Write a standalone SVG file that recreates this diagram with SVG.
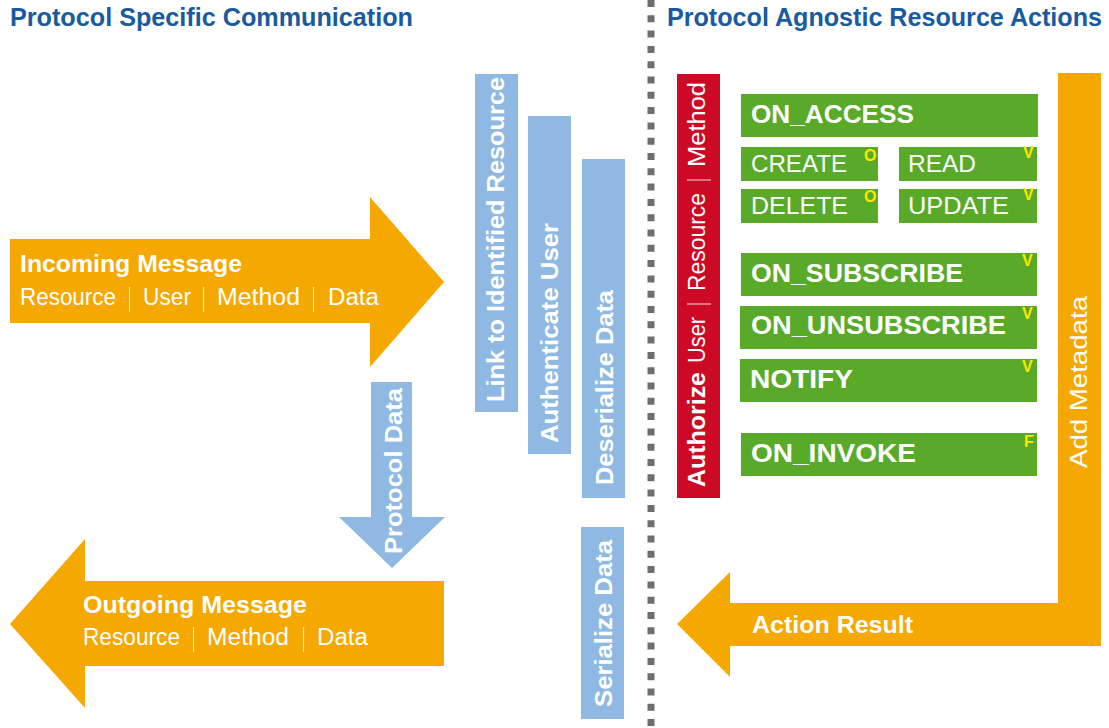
<svg xmlns="http://www.w3.org/2000/svg" width="1109" height="728" viewBox="0 0 1109 728">
<style>
text{font-family:"Liberation Sans",Arial,sans-serif;fill:#fff}
.hdr{font-size:25px;font-weight:bold;fill:#1a5aa0}
.org{fill:#f5a800}
.blu{fill:#8fb9e3}
.grn{fill:#58aa28}
.b{font-weight:bold}
.big{font-size:24px}
.reg{font-size:23px}
.pipe{stroke:#fff;stroke-opacity:0.7;stroke-width:1.2}
.tpipe{fill:#fff;opacity:0.7;font-size:23px}
.sup{font-size:16px;font-weight:bold;fill:#ffe600}
.gl{font-size:25px;font-weight:bold}
.gs{font-size:24px}
.vt{font-size:24px;font-weight:bold}
</style>
<rect width="1109" height="728" fill="#fff"/>
<g id="headers">
<text class="hdr" x="10" y="26" textLength="403" lengthAdjust="spacingAndGlyphs">Protocol Specific Communication</text>
<text class="hdr" x="667" y="26" textLength="435" lengthAdjust="spacingAndGlyphs">Protocol Agnostic Resource Actions</text>
</g>
<g id="connectors">
<line x1="651" y1="0" x2="651" y2="728" stroke="#6e6e6e" stroke-width="7" stroke-dasharray="7 8.3"/>
</g>
<g id="incoming">
<polygon class="org" points="10,239 370,239 370,197 444,282 370,367 370,323 10,323"/>
<text class="big b" x="20" y="272" textLength="222" lengthAdjust="spacingAndGlyphs">Incoming Message</text>
<text class="reg" y="305"><tspan x="20" textLength="96" lengthAdjust="spacingAndGlyphs">Resource</tspan><tspan x="143" textLength="48" lengthAdjust="spacingAndGlyphs">User</tspan><tspan x="217" textLength="83" lengthAdjust="spacingAndGlyphs">Method</tspan><tspan x="328" textLength="51" lengthAdjust="spacingAndGlyphs">Data</tspan></text>
<line class="pipe" x1="129.5" y1="287" x2="129.5" y2="312"/>
<line class="pipe" x1="203.5" y1="287" x2="203.5" y2="312"/>
<line class="pipe" x1="313.5" y1="287" x2="313.5" y2="312"/>
</g>
<g id="outgoing">
<polygon class="org" points="444,581 85,581 85,539 10,624 85,708 85,666 444,666"/>
<text class="big b" x="83" y="613" textLength="224" lengthAdjust="spacingAndGlyphs">Outgoing Message</text>
<text class="reg" y="645"><tspan x="83" textLength="97" lengthAdjust="spacingAndGlyphs">Resource</tspan><tspan x="207" textLength="82" lengthAdjust="spacingAndGlyphs">Method</tspan><tspan x="317" textLength="51" lengthAdjust="spacingAndGlyphs">Data</tspan></text>
<line class="pipe" x1="193.5" y1="627" x2="193.5" y2="652"/>
<line class="pipe" x1="303.5" y1="627" x2="303.5" y2="652"/>
</g>
<g id="protocol-data">
<polygon class="blu" points="371,382 412,382 412,517 445,517 392,568 339,517 371,517"/>
<text class="vt" transform="translate(402,554) rotate(-90)" textLength="166" lengthAdjust="spacingAndGlyphs">Protocol Data</text>
</g>
<g id="link-resource">
<rect class="blu" x="475" y="74" width="43" height="338"/>
<text class="vt" transform="translate(504,402) rotate(-90)" textLength="325" lengthAdjust="spacingAndGlyphs">Link to Identified Resource</text>
</g>
<g id="authenticate-user">
<rect class="blu" x="528" y="116" width="43" height="338"/>
<text class="vt" transform="translate(558,443) rotate(-90)" textLength="220" lengthAdjust="spacingAndGlyphs">Authenticate User</text>
</g>
<g id="deserialize-data">
<rect class="blu" x="582" y="159" width="43" height="339"/>
<text class="vt" transform="translate(613,485) rotate(-90)" textLength="195" lengthAdjust="spacingAndGlyphs">Deserialize Data</text>
</g>
<g id="serialize-data">
<rect class="blu" x="581" y="527" width="43" height="192"/>
<text class="vt" transform="translate(612,707) rotate(-90)" textLength="167" lengthAdjust="spacingAndGlyphs">Serialize Data</text>
</g>
<g id="authorize">
<rect x="677" y="74" width="43" height="424" fill="#cc0a25"/>
<g transform="translate(705,487) rotate(-90)">
<text font-size="23"><tspan x="0" class="b" font-size="24" textLength="115" lengthAdjust="spacingAndGlyphs">Authorize</tspan><tspan x="124" textLength="46" lengthAdjust="spacingAndGlyphs">User</tspan><tspan x="196" textLength="98" lengthAdjust="spacingAndGlyphs">Resource</tspan><tspan x="320" textLength="85" lengthAdjust="spacingAndGlyphs">Method</tspan></text>
<line class="pipe" x1="183" y1="-18" x2="183" y2="6"/>
<line class="pipe" x1="307" y1="-18" x2="307" y2="6"/>
</g>
</g>
<g id="on-access">
<rect class="grn" x="741" y="94" width="297" height="43"/>
<text class="gl" x="751" y="123" textLength="163" lengthAdjust="spacingAndGlyphs">ON_ACCESS</text>
</g>
<g id="create">
<rect class="grn" x="741" y="147" width="137" height="34"/>
<text class="gs" x="751" y="172" textLength="96" lengthAdjust="spacingAndGlyphs">CREATE</text>
<text class="sup" x="864" y="161">O</text>
</g>
<g id="read">
<rect class="grn" x="899" y="147" width="138" height="34"/>
<text class="gs" x="908" y="172" textLength="68" lengthAdjust="spacingAndGlyphs">READ</text>
<text class="sup" x="1023" y="158">V</text>
</g>
<g id="delete">
<rect class="grn" x="741" y="189" width="137" height="34"/>
<text class="gs" x="751" y="214" textLength="97" lengthAdjust="spacingAndGlyphs">DELETE</text>
<text class="sup" x="864" y="202">O</text>
</g>
<g id="update">
<rect class="grn" x="899" y="189" width="138" height="34"/>
<text class="gs" x="908" y="214" textLength="101" lengthAdjust="spacingAndGlyphs">UPDATE</text>
<text class="sup" x="1023" y="200">V</text>
</g>
<g id="on-subscribe">
<rect class="grn" x="741" y="253" width="296" height="43"/>
<text class="gl" x="751" y="282" textLength="212" lengthAdjust="spacingAndGlyphs">ON_SUBSCRIBE</text>
<text class="sup" x="1022" y="266">V</text>
</g>
<g id="on-unsubscribe">
<rect class="grn" x="740" y="306" width="297" height="43"/>
<text class="gl" x="751" y="334" textLength="255" lengthAdjust="spacingAndGlyphs">ON_UNSUBSCRIBE</text>
<text class="sup" x="1022" y="319">V</text>
</g>
<g id="notify">
<rect class="grn" x="740" y="359" width="297" height="43"/>
<text class="gl" x="750" y="388" textLength="103" lengthAdjust="spacingAndGlyphs">NOTIFY</text>
<text class="sup" x="1022" y="372">V</text>
</g>
<g id="on-invoke">
<rect class="grn" x="741" y="433" width="296" height="43"/>
<text class="gl" x="751" y="462" textLength="165" lengthAdjust="spacingAndGlyphs">ON_INVOKE</text>
<text class="sup" x="1024" y="447">F</text>
</g>
<g id="action-result">
<polygon class="org" points="1058,73 1101,73 1101,646 730,646 730,677 677,624 730,572 730,603 1058,603"/>
<text transform="translate(1087,468) rotate(-90)" font-size="24" textLength="172" lengthAdjust="spacingAndGlyphs">Add Metadata</text>
<text class="big b" x="752" y="633" textLength="161" lengthAdjust="spacingAndGlyphs">Action Result</text>
</g>
</svg>
